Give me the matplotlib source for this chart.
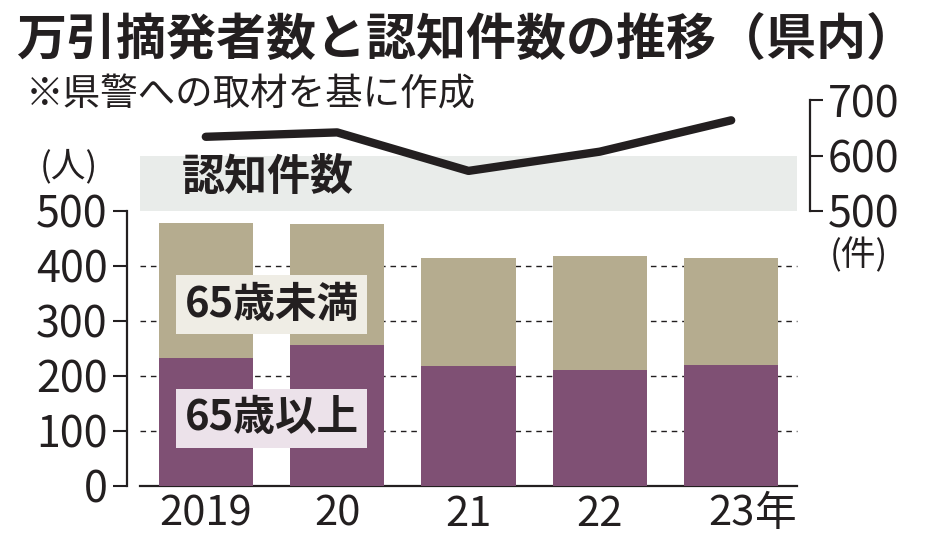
import matplotlib
matplotlib.use("Agg")
import matplotlib.pyplot as plt
import matplotlib.transforms as mtransforms

plt.rcParams['font.family'] = ['Noto Sans CJK JP', 'DejaVu Sans']

# データ（県警への取材を基に作成）
years = ["2019", "20", "21", "22", "23"]
elderly = [232, 255, 218, 210, 219]        # 65歳以上
younger = [246, 220, 195, 208, 195]        # 65歳未満
recognized = [634, 642, 572, 607, 664]     # 認知件数

left_ticks = [0, 100, 200, 300, 400, 500]
right_ticks = [500, 600, 700]

PURPLE = "#7f5074"
TAN = "#b5ac8f"
BAND = "#e9ecea"
INK = "#231f20"

fig = plt.figure(figsize=(9.34, 5.43), dpi=100)
ax = fig.add_axes([127 / 934, 57.5 / 543, 683 / 934, 396 / 543])
ax2 = ax.twinx()

x = range(len(years))
ax.bar(x, elderly, width=0.72, color=PURPLE, zorder=3)
ax.bar(x, younger, width=0.72, bottom=elderly, color=TAN, zorder=3)

# 補助線と認知件数の帯
ax.hlines([100, 200, 300, 400], -0.5, 4.5, colors=INK, linestyles=(0, (4, 3.5)),
          linewidth=1.0, zorder=1)
ax.fill_between([-0.5, 4.5], 500, 600, color=BAND, zorder=0, linewidth=0)
ax.text(-0.18, 562, "認知件数", fontsize=31, fontweight="bold", color=INK,
        ha="left", va="center", zorder=4)

ax2.plot(x, recognized, color=INK, linewidth=6, solid_capstyle="round",
         solid_joinstyle="round", zorder=5)

for a in (ax, ax2):
    a.set_xlim(-0.6, 4.6)
    a.set_ylim(0, 720)
    a.patch.set_visible(False)

ax.set_zorder(1)
ax2.set_zorder(2)

# 左軸
ax.spines["top"].set_visible(False)
ax.spines["right"].set_visible(False)
ax.spines["left"].set_bounds(0, 500)
ax.spines["bottom"].set_bounds(-0.5, 4.5)
for s in ("left", "bottom"):
    ax.spines[s].set_linewidth(1.6)
    ax.spines[s].set_color(INK)
ax.set_yticks(left_ticks)
ax.set_yticklabels([str(v) for v in left_ticks])
ax.tick_params(axis="y", length=10, width=1.5, color=INK, pad=4,
               labelsize=31, labelcolor=INK)
ax.set_xticks(list(x))
ax.set_xticklabels(years)
ax.tick_params(axis="x", length=0, pad=6, labelsize=30, labelcolor=INK)

# 右軸
for s in ("top", "left", "bottom"):
    ax2.spines[s].set_visible(False)
ax2.spines["right"].set_bounds(500, 700)
ax2.spines["right"].set_linewidth(1.6)
ax2.spines["right"].set_color(INK)
ax2.set_yticks(right_ticks)
ax2.set_yticklabels([str(v) for v in right_ticks])
ax2.tick_params(axis="y", length=9, width=1.5, color=INK, pad=4,
                labelsize=31, labelcolor=INK)

# 年・単位
trans = mtransforms.blended_transform_factory(ax.transData, ax.transAxes)
ax.text(4.18, -6 * 100 / 72 / 396, "年", transform=trans, fontsize=30, color=INK,
        ha="left", va="top")
fig.text(40 / 934, 1 - 167 / 543, "(人)", fontsize=25, color=INK,
         ha="left", va="center")
fig.text(830 / 934, 1 - 256 / 543, "(件)", fontsize=25, color=INK,
         ha="left", va="center")

# 凡例ラベル
ax.text(0.5, 329, "65歳未満", fontsize=30, fontweight="bold", color=INK,
        ha="center", va="center", zorder=6,
        bbox=dict(boxstyle="square,pad=0.2", facecolor="#efede5", edgecolor="none"))
ax.text(0.5, 122, "65歳以上", fontsize=30, fontweight="bold", color=INK,
        ha="center", va="center", zorder=6,
        bbox=dict(boxstyle="square,pad=0.2", facecolor="#ece2ea", edgecolor="none"))

# タイトル
fig.text(16 / 934, 1 - 40 / 543, "万引摘発者数と認知件数の推移（県内）",
         fontsize=36, fontweight="bold", color=INK, ha="left", va="center")
fig.text(26 / 934, 1 - 95 / 543, "※県警への取材を基に作成",
         fontsize=27, color=INK, ha="left", va="center")

fig.savefig("out.png", dpi=100, facecolor="white")
